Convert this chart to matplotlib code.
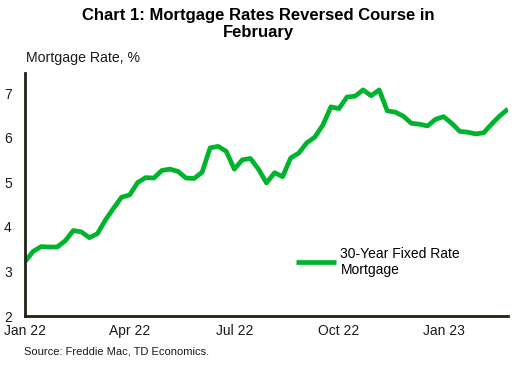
import matplotlib
matplotlib.use("Agg")
import matplotlib.pyplot as plt
import pandas as pd

plt.rcParams['font.family'] = ['Liberation Sans', 'DejaVu Sans']

rates = [3.22, 3.45, 3.56, 3.55, 3.55, 3.69, 3.92, 3.89, 3.76, 3.85, 4.16, 4.42, 4.67,
         4.72, 5.00, 5.11, 5.10, 5.27, 5.30, 5.25, 5.10, 5.09, 5.23, 5.78, 5.81, 5.70,
         5.30, 5.51, 5.54, 5.30, 4.99, 5.22, 5.13, 5.55, 5.66, 5.89, 6.02, 6.29, 6.70,
         6.66, 6.92, 6.94, 7.08, 6.95, 7.08, 6.61, 6.58, 6.49, 6.33, 6.31, 6.27, 6.42,
         6.48, 6.33, 6.15, 6.13, 6.09, 6.12, 6.32, 6.50, 6.65]
dates = pd.date_range('2022-01-06', periods=len(rates), freq='7D')
tick_dates = pd.to_datetime(['2022-01-06', '2022-04-07', '2022-07-07', '2022-10-06', '2023-01-05'])
tick_labels = ['Jan 22', 'Apr 22', 'Jul 22', 'Oct 22', 'Jan 23']
yticks = [2, 3, 4, 5, 6, 7]

fig = plt.figure(figsize=(5.17, 3.85), dpi=100)
ax = fig.add_axes([25/517, 1 - 316/385, (508-25)/517, (316-73)/385])
green = '#00B32D'
ax.plot(dates, rates, color=green, lw=3.4, solid_capstyle='butt', label='30-Year Fixed Rate\nMortgage')
ax.set_xlim(dates[0], dates[-1])
ax.set_ylim(2, 7.46)
ax.set_yticks(yticks)
ax.set_xticks(tick_dates)
ax.set_xticklabels(tick_labels)
for s in ['top', 'right']:
    ax.spines[s].set_visible(False)
for s in ['left', 'bottom']:
    ax.spines[s].set_color('#1c2414')
    ax.spines[s].set_linewidth(2)
ax.tick_params(length=0, labelsize=10, colors='#1a1a1a')
ax.tick_params(axis='y', pad=9.5)
ax.tick_params(axis='x', pad=6)

ax.legend(loc='upper left', bbox_to_anchor=(0.561, 0.285), frameon=False, fontsize=10,
          handlelength=2.9, handletextpad=0.3, borderaxespad=0, borderpad=0, labelspacing=0.3)

fig.text(0.5, 1 - 24/385, 'Chart 1: Mortgage Rates Reversed Course in\nFebruary', ha='center', va='center',
         fontsize=12, fontweight='bold', linespacing=1.2)
fig.text(26/517, 1 - 58/385, 'Mortgage Rate, %', ha='left', va='center', fontsize=10.2, color='#1a1a1a')
fig.text(24/517, 1 - 352/385, 'Source: Freddie Mac, TD Economics.', ha='left', va='center', fontsize=8, color='#1a1a1a')

fig.savefig('out.png', dpi=100)
